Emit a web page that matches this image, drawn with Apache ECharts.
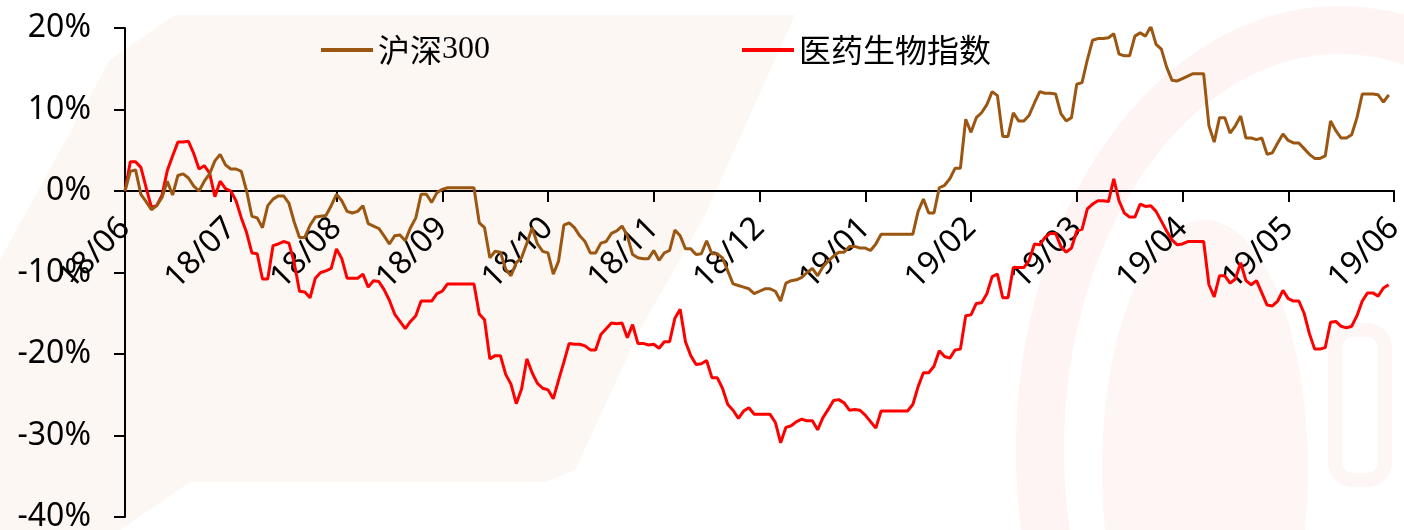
<!DOCTYPE html>
<html>
<head>
<meta charset="utf-8">
<script src="https://cdn.jsdelivr.net/npm/echarts@6/dist/echarts.min.js"></script>
<style>
html,body{margin:0;padding:0;background:#fff;}
#chart{width:1404px;height:530px;}
</style>
</head>
<body>
<div id="chart"></div>
<script>
// tick labels (one per month)
const monthLabels = ['18/06','18/07','18/08','18/09','18/10','18/11','18/12','19/01','19/02','19/03','19/04','19/05','19/06'];
const pointsPerMonth = 20;

// 沪深300 cumulative return (%)
const hs300 = [
 0, 2.4, 2.6, -0.4, -1.3, -2.3, -1.8, -0.8, 1.2, -0.5,
 1.9, 2.1, 1.6, 0.6, 0.0, 1.2, 2.1, 3.7, 4.5, 3.2,
 2.7, 2.7, 2.4, 0.0, -3.1, -3.3, -4.5, -1.8, -1.0, -0.6,
 -0.6, -1.5, -3.8, -5.7, -5.7, -4.2, -3.2, -3.1, -3.0, -1.8,
 -0.4, -1.2, -2.5, -2.7, -2.5, -1.8, -4.0, -4.3, -4.6, -5.5,
 -6.5, -5.5, -5.4, -6.1, -4.5, -3.3, -0.4, -0.4, -1.4, -0.2,
 0.2, 0.4, 0.4, 0.4, 0.4, 0.4, 0.4, -3.9, -4.5, -8.2,
 -7.4, -7.5, -9.6, -10.4, -8.8, -8.2, -6.4, -4.5, -6.5, -7.4,
 -7.6, -10.2, -8.6, -4.2, -3.9, -4.5, -5.5, -6.2, -7.6, -7.6,
 -6.4, -6.2, -5.2, -4.9, -4.3, -5.5, -7.8, -8.2, -8.3, -8.3,
 -7.3, -8.5, -7.6, -7.3, -4.8, -5.5, -7.1, -7.1, -7.8, -7.7,
 -6.1, -7.7, -7.7, -8.2, -9.8, -11.4, -11.6, -11.8, -12.0, -12.6,
 -12.3, -12.0, -12.0, -12.3, -13.5, -11.3, -11.0, -10.9, -10.6, -10.0,
 -9.5, -10.4, -9.3, -8.6, -8.0, -7.5, -7.5, -6.8, -6.8, -7.0,
 -7.0, -7.3, -6.5, -5.3, -5.3, -5.3, -5.3, -5.3, -5.3, -5.3,
 -2.5, -1.0, -2.7, -2.7, 0.4, 0.7, 1.5, 2.8, 2.8, 8.8,
 7.2, 9.0, 9.6, 10.6, 12.2, 11.7, 6.7, 6.7, 9.6, 8.6,
 8.6, 9.3, 10.8, 12.2, 12.0, 12.0, 11.9, 9.5, 8.6, 9.0,
 13.1, 13.3, 16.1, 18.5, 18.7, 18.7, 18.8, 19.3, 16.8, 16.6,
 16.6, 19.0, 19.4, 19.0, 20.2, 18.0, 17.4, 15.2, 13.6, 13.5,
 13.8, 14.1, 14.4, 14.4, 14.4, 8.0, 6.0, 9.0, 9.0, 7.1,
 8.0, 9.2, 6.5, 6.5, 6.3, 6.5, 4.5, 4.7, 5.9, 7.0,
 6.2, 5.9, 5.9, 5.2, 4.5, 4.0, 4.0, 4.3, 8.6, 7.4,
 6.5, 6.5, 6.9, 9.0, 11.9, 11.9, 11.9, 11.8, 10.9, 11.8
];

// 医药生物指数 cumulative return (%)
const pharma = [
 0, 3.6, 3.6, 2.9, 0.4, -2.0, -1.8, -0.5, 2.5, 4.3,
 6.0, 6.0, 6.1, 4.6, 2.7, 3.1, 2.2, -0.7, 1.2, 0.3,
 0.0, -1.2, -3.3, -5.1, -7.6, -7.7, -10.8, -10.8, -6.7, -6.5,
 -6.2, -6.4, -8.8, -12.3, -12.4, -13.1, -10.7, -10.0, -9.8, -9.5,
 -7.1, -8.3, -10.7, -10.7, -10.7, -10.2, -11.8, -11.0, -11.1, -12.1,
 -13.4, -15.1, -16.0, -16.9, -16.0, -15.3, -13.5, -13.5, -13.5, -12.6,
 -12.3, -11.4, -11.4, -11.4, -11.4, -11.4, -11.4, -15.1, -15.8, -20.6,
 -20.2, -20.2, -22.5, -23.7, -26.1, -24.3, -20.6, -22.3, -23.6, -24.2,
 -24.4, -25.5, -23.2, -21.0, -18.7, -18.8, -18.8, -19.0, -19.5, -19.5,
 -17.6, -16.9, -16.2, -16.3, -16.2, -18.0, -16.4, -18.7, -18.7, -18.9,
 -18.8, -19.3, -18.5, -18.5, -15.6, -14.5, -18.5, -20.2, -21.3, -21.2,
 -20.8, -22.9, -22.9, -24.2, -26.2, -26.9, -27.9, -27.0, -26.6, -27.4,
 -27.4, -27.4, -27.4, -28.4, -30.9, -29.0, -28.8, -28.3, -28.0, -28.2,
 -28.2, -29.3, -27.8, -26.8, -25.7, -25.6, -26.0, -26.9, -26.8, -26.9,
 -27.5, -28.3, -29.1, -27.0, -27.0, -27.0, -27.0, -27.0, -27.0, -26.2,
 -24.0, -22.3, -22.3, -21.5, -19.6, -20.3, -20.5, -19.5, -19.4, -15.3,
 -15.2, -13.8, -13.7, -12.6, -10.5, -10.2, -13.1, -13.1, -9.4, -9.4,
 -9.4, -8.5, -6.5, -6.6, -5.7, -5.2, -5.2, -6.8, -7.5, -7.0,
 -4.9, -4.7, -2.2, -1.6, -1.2, -1.2, -1.3, 1.5, -1.2, -2.7,
 -3.2, -3.2, -1.6, -1.9, -1.8, -2.5, -3.7, -4.9, -6.0, -6.6,
 -6.5, -6.2, -6.2, -6.2, -6.2, -11.5, -13.0, -10.4, -10.4, -11.3,
 -10.8, -8.8, -11.0, -11.5, -11.0, -12.5, -14.0, -14.1, -13.5, -12.2,
 -13.2, -13.5, -13.5, -15.0, -17.5, -19.4, -19.4, -19.2, -16.1, -16.0,
 -16.6, -16.8, -16.6, -15.3, -13.5, -12.5, -12.5, -12.9, -11.9, -11.5
];

const seriesNames = ['沪深300', '医药生物指数'];
const yTicks = { min: -40, max: 20, step: 10 };

// category axis: pointsPerMonth slots per month, the month label on the first slot
const categories = [];
monthLabels.forEach((m, mi) => {
  const n = mi < monthLabels.length - 1 ? pointsPerMonth : 1;
  for (let k = 0; k < n; k++) categories.push(m + '#' + k);
});
const isMonthStart = (i, v) => String(v).endsWith('#0');

const W = 1404, H = 530;
const GRID = { left: 125, right: 10, top: 28, bottom: 13 };
const plotH = H - GRID.top - GRID.bottom;
// the category axis sits on the 0% line: shift it up from the grid bottom
const zeroOffset = -plotH * (0 - yTicks.min) / (yTicks.max - yTicks.min);

const FONT = '"Noto Sans", "Noto Sans CJK SC", sans-serif';
const FS = 32;
const chart = echarts.init(document.getElementById('chart'), null, { renderer: 'canvas', width: W, height: H });

chart.setOption({
  backgroundColor: '#ffffff',
  animation: false,
  graphic: [
    { type: 'polygon', silent: true, z: -10,
      shape: { points: [[175,15],[795,15],[705,215],[640,330],[575,470],[545,482],[190,482],[120,530],[0,530],[0,260],[110,60]] },
      style: { fill: '#fdf7f3' } },
    { type: 'ellipse', silent: true, z: -10,
      shape: { cx: 1340, cy: 450, rx: 300, ry: 420 },
      style: { fill: 'none', stroke: '#fef4f4', lineWidth: 48 } },
    { type: 'ellipse', silent: true, z: -10,
      shape: { cx: 1205, cy: 470, rx: 103, ry: 250 },
      style: { fill: '#fef5f5' } },
    { type: 'rect', silent: true, z: -10,
      shape: { x: 1335, y: 330, width: 50, height: 150, r: 18 },
      style: { fill: 'none', stroke: '#fef5f5', lineWidth: 14 } }
  ],
  grid: Object.assign({ containLabel: false, outerBoundsMode: 'none' }, GRID),
  legend: [
    { data: [seriesNames[0]], left: 321, top: 34, padding: 0, icon: 'rect', itemWidth: 52, itemHeight: 4,
      textStyle: { fontSize: FS, color: '#000', fontFamily: FONT,
        rich: { a: { fontSize: FS, fontFamily: '"Noto Sans CJK SC", sans-serif', color: '#000' },
                b: { fontSize: FS, fontFamily: '"Liberation Serif", serif', color: '#000' } } },
      formatter: n => '{a|沪深}{b|300}' },
    { data: [seriesNames[1]], left: 742, top: 34, padding: 0, icon: 'rect', itemWidth: 52, itemHeight: 4,
      textStyle: { fontSize: FS, color: '#000', fontFamily: '"Noto Sans CJK SC", sans-serif' } }
  ],
  xAxis: {
    type: 'category',
    data: categories,
    boundaryGap: false,
    offset: zeroOffset,
    axisLine: { onZero: false, lineStyle: { color: '#000', width: 2 } },
    axisTick: { show: true, interval: isMonthStart, length: 11, lineStyle: { color: '#000', width: 2 } },
    axisLabel: {
      interval: isMonthStart, rotate: 45, margin: 32, color: '#000', fontSize: FS, fontFamily: FONT,
      hideOverlap: false,
      formatter: v => v.split('#')[0]
    },
    splitLine: { show: false }
  },
  yAxis: {
    type: 'value',
    min: yTicks.min, max: yTicks.max, interval: yTicks.step,
    axisLine: { show: true, lineStyle: { color: '#000', width: 2 } },
    axisTick: { show: true, length: 11, lineStyle: { color: '#000', width: 2 } },
    axisLabel: { formatter: '{value}%', margin: 34, color: '#000', fontSize: FS, fontFamily: FONT },
    splitLine: { show: false }
  },
  series: [
    { name: seriesNames[0], type: 'line', data: hs300, symbol: 'none', color: '#9B5711',
      lineStyle: { color: '#9B5711', width: 3 }, z: 3 },
    { name: seriesNames[1], type: 'line', data: pharma, symbol: 'none', color: '#FF0000',
      lineStyle: { color: '#FF0000', width: 3 }, z: 2 }
  ]
});
</script>
</body>
</html>
